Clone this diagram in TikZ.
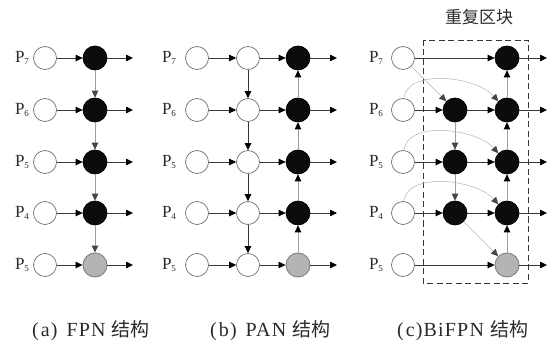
\documentclass[tikz,border=0pt]{standalone}
\usepackage{fontspec}
\setmainfont{Liberation Serif}
\newfontfamily\capfont[LetterSpace=6]{Liberation Serif}
\newfontfamily\cjk{Noto Sans CJK SC}
\usetikzlibrary{arrows.meta}
\definecolor{ringgray}{HTML}{707070}
\definecolor{darkfill}{HTML}{0C0C0C}
\definecolor{greyfill}{HTML}{B4B4B4}
\definecolor{linedark}{HTML}{383838}
\definecolor{linelight}{HTML}{A0A0A0}
\definecolor{tipgray}{HTML}{454545}
\definecolor{textgray}{HTML}{2A2A2A}
\tikzset{
  wnode/.style={circle, draw=ringgray, fill=white, line width=0.7pt, minimum size=23pt, inner sep=0pt},
  bnode/.style={circle, draw=black, fill=darkfill, line width=0.7pt, minimum size=24pt, inner sep=0pt},
  gnode/.style={circle, draw=gray, fill=greyfill, line width=0.9pt, minimum size=24pt, inner sep=0pt},
  plabel/.style={font=\fontsize{17}{17}\selectfont, text=textgray, inner sep=0pt},
  hor/.style={draw=linedark, line width=0.8pt, -{Triangle[length=7pt,width=6.5pt,color=black]}},
  vdark/.style={draw=linedark, line width=0.8pt, -{Triangle[length=7pt,width=6.5pt,color=black]}},
  vlight/.style={draw=linelight, line width=0.9pt, -{Triangle[length=7pt,width=6.5pt,color=tipgray]}},
  vup/.style={draw=linelight, line width=0.9pt, -{Triangle[length=7pt,width=6.5pt,color=black]}},
  thin/.style={draw=linelight!80, line width=0.5pt, -{Triangle[length=7pt,width=6.5pt,color=tipgray]}},
  caption/.style={font=\capfont\fontsize{20}{20}\selectfont, text=textgray, inner sep=0pt, anchor=base west},
}
\newcommand{\psub}[1]{P\raisebox{-2.5pt}{\fontsize{9}{9}\selectfont #1}}
\newcommand{\cjkword}[1]{{\cjk\fontsize{19}{19}\selectfont #1}}
\begin{document}
\begin{tikzpicture}[x=1pt,y=-1pt]
\useasboundingbox (0,0) rectangle (560,342);
% row heights, top (P7) to bottom
\def\ya{58}\def\yb{110}\def\yc{162}\def\yd{213}\def\ye{265}

% ---------- (a) FPN ----------
\foreach \y/\n/\s in {\ya/1/7,\yb/2/6,\yc/3/5,\yd/4/4,\ye/5/5}{
  \node[plabel] (aL\n) at (22,\y) {\psub{\s}};
  \node[wnode] (aW\n) at (45,\y) {};
  \coordinate (aO\n) at (133,\y);
}
\foreach \y/\n in {\ya/1,\yb/2,\yc/3,\yd/4}{\node[bnode] (aB\n) at (95,\y) {};}
\node[gnode] (aB5) at (95,\ye) {};
\foreach \n in {1,...,5}{
  \draw[hor] (aW\n) -- (aB\n);
  \draw[hor] (aB\n) -- (aO\n);
}
\foreach \n/\m in {1/2,2/3,3/4,4/5}{\draw[vlight] (aB\n) -- (aB\m);}

% ---------- (b) PAN ----------
\foreach \y/\n/\s in {\ya/1/7,\yb/2/6,\yc/3/5,\yd/4/4,\ye/5/5}{
  \node[plabel] (bL\n) at (169,\y) {\psub{\s}};
  \node[wnode] (bW\n) at (197,\y) {};
  \node[wnode] (bM\n) at (248,\y) {};
  \coordinate (bO\n) at (337,\y);
}
\foreach \y/\n in {\ya/1,\yb/2,\yc/3,\yd/4}{\node[bnode] (bB\n) at (298,\y) {};}
\node[gnode] (bB5) at (298,\ye) {};
\foreach \n in {1,...,5}{
  \draw[hor] (bW\n) -- (bM\n);
  \draw[hor] (bM\n) -- (bB\n);
  \draw[hor] (bB\n) -- (bO\n);
}
\foreach \n/\m in {1/2,2/3,3/4,4/5}{\draw[vdark] (bM\n) -- (bM\m);}
\foreach \n/\m in {5/4,4/3,3/2,2/1}{\draw[vup] (bB\n) -- (bB\m);}

% ---------- (c) BiFPN ----------
\draw[draw=linedark, line width=0.9pt, dash pattern=on 6pt off 3.5pt] (423,40) rectangle (528,283);
\node[font=\cjk\fontsize{17}{17}\selectfont, text=textgray, inner sep=0pt] (ctitle) at (479,17) {重复区块};
\foreach \y/\n/\s in {\ya/1/7,\yb/2/6,\yc/3/5,\yd/4/4,\ye/5/5}{
  \node[plabel] (cL\n) at (376,\y) {\psub{\s}};
  \node[wnode] (cW\n) at (403,\y) {};
  \coordinate (cO\n) at (547,\y);
}
\foreach \y/\n in {\yb/2,\yc/3,\yd/4}{\node[bnode] (cM\n) at (455,\y) {};}
\foreach \y/\n in {\ya/1,\yb/2,\yc/3,\yd/4}{\node[bnode] (cB\n) at (507,\y) {};}
\node[gnode] (cB5) at (507,\ye) {};
% straight rows
\draw[hor] (cW1) -- (cB1);
\draw[hor] (cW5) -- (cB5);
\foreach \n in {2,3,4}{
  \draw[hor] (cW\n) -- (cM\n);
  \draw[hor] (cM\n) -- (cB\n);
}
\foreach \n in {1,...,5}{\draw[hor] (cB\n) -- (cO\n);}
% top-down path
\draw[thin] (cW1) -- (cM2);
\draw[vlight] (cM2) -- (cM3);
\draw[vlight] (cM3) -- (cM4);
\draw[thin] (cM4) -- (cB5);
% bottom-up path
\foreach \n/\m in {5/4,4/3,3/2,2/1}{\draw[vup] (cB\n) -- (cB\m);}
% skip connections arching over the middle column
\foreach \n in {2,3,4}{
  \draw[thin] (cW\n.85) .. controls ([xshift=3pt,yshift=30pt]cW\n.85) and ([xshift=-22pt,yshift=25pt]cB\n.135) .. (cB\n.135);
}

% ---------- captions ----------
\node[caption] (capa) at (32,336) {(\hspace{2pt}a)\hspace{9pt}FPN \cjkword{结构}};
\node[caption] (capb) at (210,336) {(\hspace{2pt}b)\hspace{9pt}PAN \cjkword{结构}};
\node[caption] (capc) at (397,336) {(\hspace{2pt}c)\hspace{1pt}BiFPN \cjkword{结构}};
\end{tikzpicture}
\end{document}
